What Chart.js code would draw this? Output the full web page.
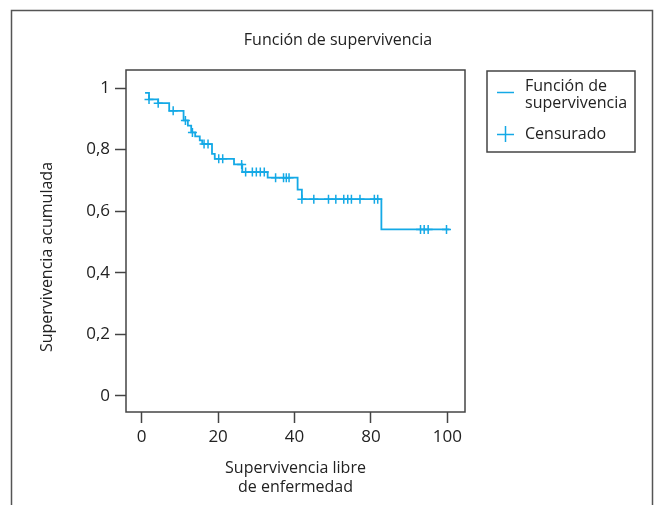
<!DOCTYPE html>
<html>
<head>
<meta charset="utf-8">
<script src="https://cdn.jsdelivr.net/npm/chart.js@4.4.0/dist/chart.umd.min.js"></script>
<style>
  body { margin: 0; background: #fff; }
</style>
</head>
<body>
<canvas id="supervivencia" width="656" height="505"></canvas>
<script>
// Kaplan-Meier curve: time of each step and survival after the step
var eventTimes = [1.1, 2.4, 5.4, 9.0, 13.7, 15.1, 16.2, 17.5, 19.0, 19.8, 23.0, 23.9, 30.2, 32.9, 41.2, 51.0, 52.4, 78.4, 100.7];
var survival   = [0.984, 0.963, 0.951, 0.926, 0.895, 0.878, 0.856, 0.843, 0.830, 0.818, 0.786, 0.770, 0.752, 0.727, 0.709, 0.670, 0.639, 0.541, 0.541];

// censored cases
var censorTimes    = [2.4, 5.4, 10.3, 14.3, 16.6, 20.4, 21.7, 25.2, 26.5, 32.7, 34.0, 36.2, 37.5, 38.8, 40.1, 43.8, 46.4, 47.3, 48.2, 52.4, 56.3, 61.1, 63.5, 66.1, 67.4, 68.6, 71.4, 76.1, 77.2, 91.2, 92.4, 93.7, 99.7];
var censorSurvival = [0.963, 0.951, 0.926, 0.895, 0.856, 0.818, 0.818, 0.770, 0.770, 0.752, 0.727, 0.727, 0.727, 0.727, 0.727, 0.709, 0.709, 0.709, 0.709, 0.639, 0.639, 0.639, 0.639, 0.639, 0.639, 0.639, 0.639, 0.639, 0.639, 0.541, 0.541, 0.541, 0.541];

// axis ticks (labels as printed in the original)
var xTickValues = [0, 25, 50, 75, 100];
var xTickLabels = ['0', '20', '40', '80', '100'];
var yTickValues = [0, 0.2, 0.4, 0.6, 0.8, 1];
var yTickLabels = ['0', '0,2', '0,4', '0,6', '0,8', '1'];

var blue = '#14a9e6';
var dark = '#444444';
var fontFamily = "'Open Sans', 'DejaVu Sans', sans-serif";

// frame, titles, plot box and legend
var decorations = {
    id: 'decorations',
    afterDraw: function(chart) {
        var c = chart.ctx;
        var a = chart.chartArea;
        c.save();
        // outer frame (open at the bottom)
        c.strokeStyle = '#555555';
        c.lineWidth = 1.5;
        c.beginPath();
        c.moveTo(11.5, 505);
        c.lineTo(11.5, 10.5);
        c.lineTo(652.5, 10.5);
        c.lineTo(652.5, 505);
        c.stroke();

        // title
        c.fillStyle = '#222222';
        c.font = '16px ' + fontFamily;
        c.textAlign = 'center';
        c.textBaseline = 'middle';
        c.fillText('Función de supervivencia', 338, 40);

        // y axis title
        c.save();
        c.translate(47, 257);
        c.rotate(-Math.PI / 2);
        c.fillText('Supervivencia acumulada', 0, 0);
        c.restore();

        // plot box
        c.strokeStyle = dark;
        c.lineWidth = 1.5;
        c.strokeRect(a.left, a.top, a.right - a.left, a.bottom - a.top);

        // legend
        c.strokeRect(487, 71, 148, 81);
        c.strokeStyle = chart.data.datasets[0].borderColor;
        c.lineWidth = 1.5;
        c.beginPath();
        c.moveTo(497, 92.5);
        c.lineTo(514, 92.5);
        c.stroke();
        c.strokeStyle = chart.data.datasets[1].borderColor;
        c.beginPath();
        c.moveTo(505.5, 126);
        c.lineTo(505.5, 142);
        c.moveTo(497, 134.5);
        c.lineTo(514, 134.5);
        c.stroke();
        c.fillStyle = '#222222';
        c.textAlign = 'left';
        c.fillText('Función de', 525, 86);
        c.fillText('supervivencia', 525, 103);
        c.fillText('Censurado', 525, 134);
        c.restore();
    }
};

var ctx = document.getElementById('supervivencia').getContext('2d');
var chart = new Chart(ctx, {
    type: 'line',
    data: {
        datasets: [{
            label: 'Función de supervivencia',
            data: eventTimes.map(function(t, i) { return {x: t, y: survival[i]}; }),
            borderColor: blue,
            borderWidth: 1.8,
            stepped: true,
            pointRadius: 0,
            fill: false
        }, {
            label: 'Censurado',
            data: censorTimes.map(function(t, i) { return {x: t, y: censorSurvival[i]}; }),
            borderColor: blue,
            backgroundColor: blue,
            showLine: false,
            pointStyle: 'cross',
            pointRadius: 4.5,
            pointBorderWidth: 1.5,
            pointHoverRadius: 4.5
        }]
    },
    options: {
        responsive: false,
        animation: false,
        layout: {
            padding: {top: 70, right: 191, left: 0, bottom: 0}
        },
        plugins: {
            legend: {display: false},
            title: {display: false},
            tooltip: {enabled: false}
        },
        scales: {
            x: {
                type: 'linear',
                min: -5.13,
                max: 105.75,
                afterBuildTicks: function(scale) {
                    scale.ticks = xTickValues.map(function(v) { return {value: v}; });
                },
                afterFit: function(scale) { scale.height = 93; },
                ticks: {
                    color: '#222222',
                    padding: 4,
                    font: {family: fontFamily, size: 17},
                    callback: function(value, index) { return xTickLabels[index]; }
                },
                grid: {
                    drawOnChartArea: false,
                    tickLength: 11,
                    tickColor: dark,
                    tickWidth: 1.5
                },
                border: {display: false},
                title: {
                    display: true,
                    text: ['Supervivencia libre', 'de enfermedad'],
                    color: '#222222',
                    font: {family: fontFamily, size: 16},
                    padding: {top: 0, bottom: 8}
                }
            },
            y: {
                type: 'linear',
                min: -0.052,
                max: 1.0586,
                afterBuildTicks: function(scale) {
                    scale.ticks = yTickValues.map(function(v) { return {value: v}; });
                },
                afterFit: function(scale) { scale.width = 126; },
                ticks: {
                    color: '#222222',
                    padding: 5,
                    font: {family: fontFamily, size: 17},
                    callback: function(value, index) { return yTickLabels[index]; }
                },
                grid: {
                    drawOnChartArea: false,
                    tickLength: 11,
                    tickColor: dark,
                    tickWidth: 1.5
                },
                border: {display: false}
            }
        }
    },
    plugins: [decorations]
});
</script>
</body>
</html>
